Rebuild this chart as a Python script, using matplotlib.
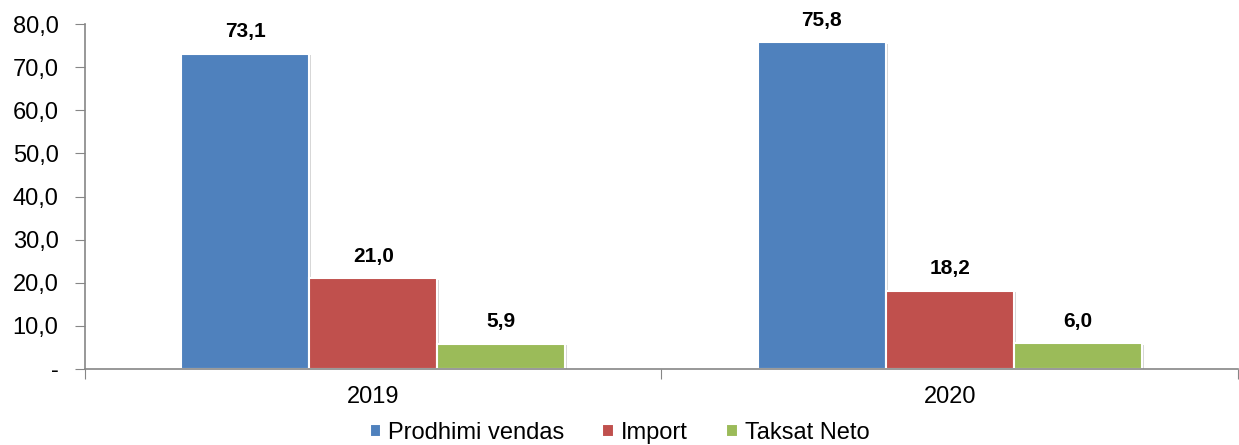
import matplotlib.pyplot as plt
import matplotlib.transforms as mtransforms
import numpy as np

plt.rcParams['font.family'] = ['Liberation Sans', 'DejaVu Sans']

years = ["2019", "2020"]
series_names = ["Prodhimi vendas", "Import", "Taksat Neto"]
prodhimi = [73.1, 75.8]
importi = [21.0, 18.2]
taksat = [5.9, 6.0]
colors = ["#4f81bd", "#c0504d", "#9bbb59"]

fig = plt.figure(figsize=(12.39, 4.45), dpi=100)
ax = fig.add_axes([0.0686, 0.1708, 0.9305, 0.7752])

x = np.arange(len(years))
width = 0.222
values = [prodhimi, importi, taksat]

for i, (vals, name, col) in enumerate(zip(values, series_names, colors)):
    pos = x + (i - 1) * width
    # soft shadow behind the bars
    shadow = mtransforms.offset_copy(ax.transData, fig=fig, x=2.0, y=-1.5, units='dots')
    ax.bar(pos, vals, width, color="#d6d6d6", edgecolor="none", transform=shadow, zorder=1)
    bars = ax.bar(pos, vals, width, color=col, edgecolor="white", linewidth=1.5,
                  label=name, zorder=2)
    for b, v in zip(bars, vals):
        ax.annotate(f"{v:.1f}".replace(".", ","),
                    (b.get_x() + b.get_width() / 2, v),
                    xytext=(0, 9), textcoords="offset points",
                    ha="center", va="bottom", fontsize=15, fontweight="bold")

ax.set_xlim(-0.5, 1.5)
ax.set_ylim(0, 80)

yticks = np.arange(0, 81, 10)
ax.set_yticks(yticks)
ax.set_yticklabels(["-"] + [f"{t:.1f}".replace(".", ",") for t in yticks[1:]])

ax.set_xticks([-0.5, 0.5, 1.5])
ax.set_xticklabels([])
ax.set_xticks(x, minor=True)
ax.set_xticklabels(years, minor=True)
ax.tick_params(axis="x", which="minor", length=0, pad=12, labelsize=17)
ax.tick_params(axis="x", which="major", length=7, color="#868686", direction="out")
ax.tick_params(axis="y", length=7, color="#868686", labelsize=17, pad=12)

for s in ["top", "right"]:
    ax.spines[s].set_visible(False)
for s in ["left", "bottom"]:
    ax.spines[s].set_color("#868686")
    ax.spines[s].set_linewidth(1.2)

fig.legend(loc="lower center", bbox_to_anchor=(0.5, -0.035), ncol=3, frameon=False,
           fontsize=17, handlelength=0.5, handleheight=0.5, handletextpad=0.3,
           columnspacing=1.6, borderpad=0.2)

fig.savefig("out.png", dpi=100)
